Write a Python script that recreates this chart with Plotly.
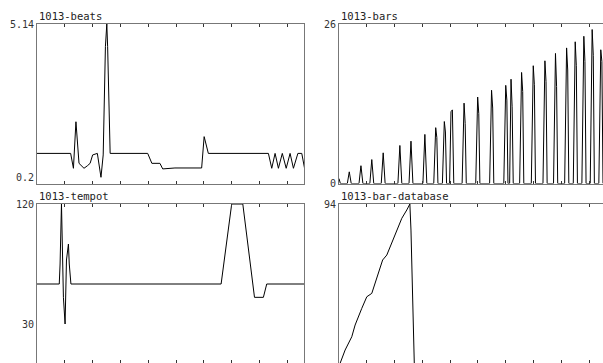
import plotly.graph_objects as go

W, H = 603, 363
FONT = "DejaVu Sans Mono"

# ---------------- data ----------------
beats_x = [0, 12.1, 13.1, 14.0, 15.1, 16.1, 16.9, 18.1, 19.1, 20.0, 21.7, 23.0, 23.8,
           24.6, 25.1, 25.4, 26.3, 39.8, 41.3, 44.2, 45.2, 49.6, 59.2, 60.1, 61.6,
           83.2, 84.4, 85.6, 86.8, 88.2, 89.6, 91.0, 92.2, 93.8, 95.2, 96.2]
beats_y = [0.97, 0.97, 0.49, 1.99, 0.65, 0.54, 0.49, 0.57, 0.65, 0.92, 0.97, 0.2, 0.92,
           4.41, 5.14, 4.41, 0.97, 0.97, 0.65, 0.65, 0.47, 0.50, 0.50, 1.51, 0.97,
           0.97, 0.49, 0.97, 0.49, 0.97, 0.49, 0.97, 0.49, 0.97, 0.97, 0.49]

bars_x = [0, 0.5,
          3.0, 3.7, 4.4,
          7.2, 7.9, 8.6,
          11.1, 11.8, 12.5,
          15.2, 15.9, 16.6,
          21.2, 21.9, 22.6,
          25.2, 25.9, 26.6,
          30.2, 30.9, 31.6,
          34.1, 34.8, 35.2, 35.6,
          37.2, 37.9, 38.3, 38.7,
          39.8, 40.3, 40.8, 41.3,
          44.3, 45.0, 45.4, 45.8,
          49.2, 49.9, 50.3, 50.7,
          54.2, 54.9, 55.3, 55.7,
          59.3, 60.0, 60.4, 60.8, 61.4, 61.9, 62.3, 62.7,
          65.0, 65.7, 66.1, 66.5,
          69.2, 69.9, 70.3, 70.7,
          73.4, 74.1, 74.5, 74.9,
          77.2, 77.9, 78.3, 78.7,
          81.2, 81.9, 82.3, 82.7,
          84.3, 85.0, 85.4, 85.8,
          87.4, 88.1, 88.5, 88.9,
          90.4, 91.1, 91.5, 91.9,
          93.5, 94.2, 94.6, 95.0]
bars_y = [0.8, 0,
          0, 1.9, 0,
          0, 2.9, 0,
          0, 3.9, 0,
          0, 5.0, 0,
          0, 6.2, 0,
          0, 6.9, 0,
          0, 8.0, 0,
          0, 9.1, 7.5, 0,
          0, 10.1, 8.4, 0,
          0, 11.7, 12.0, 0,
          0, 13.1, 9.8, 0,
          0, 14.1, 11.4, 0,
          0, 15.2, 12.3, 0,
          0, 16.0, 13.6, 0, 0, 17.0, 12.5, 0,
          0, 18.1, 15.0, 0,
          0, 19.2, 16.1, 0,
          0, 20.0, 16.6, 0,
          0, 21.2, 15.8, 0,
          0, 22.1, 18.5, 0,
          0, 23.1, 19.2, 0,
          0, 24.0, 19.9, 0,
          0, 25.1, 20.9, 0,
          0, 21.8, 19.9, 0]

tempot_x = [0, 8.0, 8.3, 8.6, 8.8, 9.5, 10.1, 10.6, 11.3, 11.6, 12.2,
            66.2, 70.0, 74.0, 78.2, 81.4, 82.6, 96.2]
tempot_y = [60, 60, 75, 120, 120, 50, 30, 78, 90, 75, 60,
            60, 120, 120, 50, 50, 60, 60]

bardb_x = [0.3, 2.2, 4.6, 5.8, 8.2, 10.0, 11.8, 12.9, 14.7, 15.7, 17.2, 20.8, 22.6,
           24.4, 25.5, 25.9, 26.4, 27.1, 95]
bardb_y = [0, 8.2, 16, 22.9, 32.7, 39.5, 41.5, 47.4, 56.2, 61.1, 64, 78.7, 85.6,
           90.5, 94, 78.7, 47.4, 0, 0]

titles = ["1013-beats", "1013-bars", "1013-tempot", "1013-bar-database"]
ytick_vals = [[0.2, 5.14], [0, 26], [30, 120], [0, 94]]
ytick_text = [["0.2", "5.14"], ["0", "26"], ["30", "120"], ["0", "94"]]
xtick_vals = [10, 20, 30, 40, 50, 60, 70, 80, 90]

# ---------------- layout geometry ----------------
LX = [37 / W, 304 / W]
RX = [339 / W, 1.0]
TY = [1 - 183.5 / H, 1 - 24 / H]
BY = [0.0, 1 - 204 / H]

series = [(beats_x, beats_y), (bars_x, bars_y), (tempot_x, tempot_y), (bardb_x, bardb_y)]
xdoms = [LX, RX, LX, RX]
ydoms = [TY, TY, BY, BY]
xranges = [[0, 96], [0, 95], [0, 96], [0, 95]]
yranges = [[0, 5.14], [0, 26], [120 / 160, 120], [94 / 160, 94]]

fig = go.Figure()
layout = dict(
    width=W, height=H, margin=dict(l=0, r=0, t=0, b=0, autoexpand=False),
    paper_bgcolor="white", plot_bgcolor="white", showlegend=False,
    font=dict(family=FONT, size=10, color="#333"),
)
annotations = []
for i in range(4):
    n = "" if i == 0 else str(i + 1)
    fig.add_trace(go.Scatter(x=series[i][0], y=series[i][1], mode="lines",
                             line=dict(color="black", width=1),
                             xaxis="x" + n, yaxis="y" + n, hoverinfo="skip"))
    layout["xaxis" + n] = dict(
        domain=xdoms[i], range=xranges[i], anchor="y" + n, automargin=False,
        showline=True, linecolor="#777", linewidth=1, mirror="ticks",
        ticks="inside", ticklen=3, tickcolor="#333", tickvals=xtick_vals,
        showticklabels=False, showgrid=False, zeroline=False, fixedrange=True)
    layout["yaxis" + n] = dict(
        domain=ydoms[i], range=yranges[i], anchor="x" + n, automargin=False,
        showline=True, linecolor="#777", linewidth=1, mirror=(i % 2 == 0),
        ticks="", tickvals=ytick_vals[i], ticktext=ytick_text[i],
        tickfont=dict(family=FONT, size=10, color="#333"),
        showgrid=False, zeroline=False, fixedrange=True)
    annotations.append(dict(
        text=titles[i], xref="paper", yref="paper",
        x=xdoms[i][0], y=ydoms[i][1], xanchor="left", yanchor="bottom",
        showarrow=False, font=dict(family=FONT, size=10.5, color="#222")))
layout["annotations"] = annotations
fig.update_layout(**layout)
fig.write_html("out.html", config={"displayModeBar": False},
               post_script="document.body.style.margin='0';document.body.style.overflow='hidden';")
